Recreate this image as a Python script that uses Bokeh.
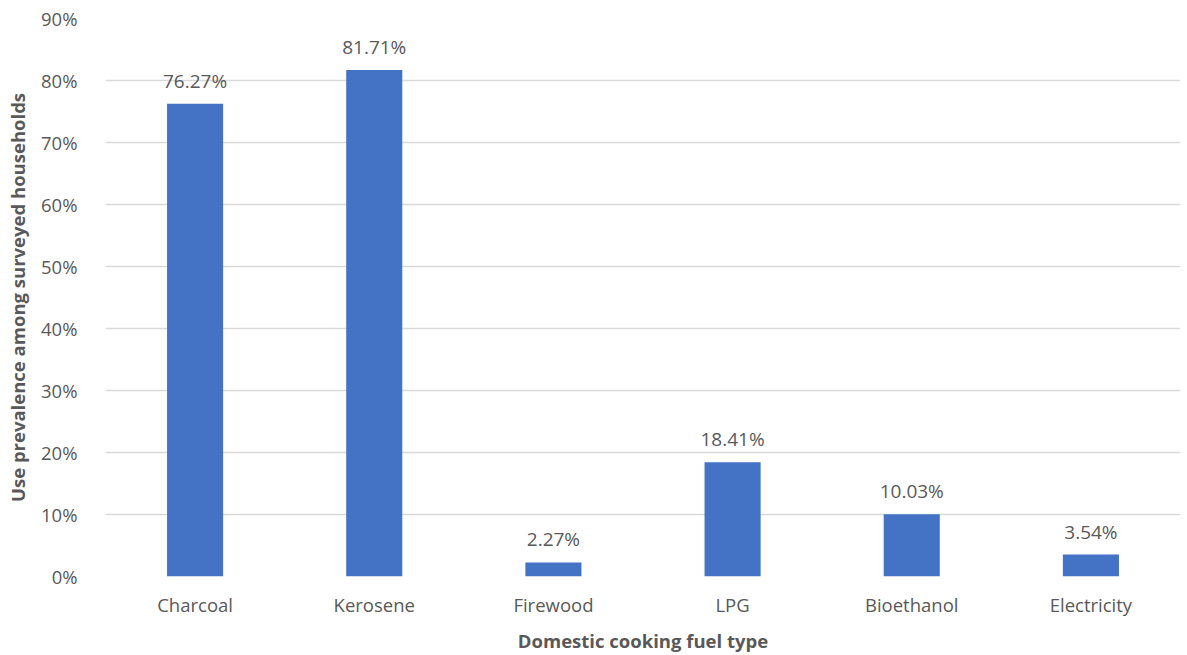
from bokeh.plotting import figure
from bokeh.models import ColumnDataSource, NumeralTickFormatter, FixedTicker, Range1d, FactorRange
from bokeh.core.properties import value
from bokeh.embed import file_html
from bokeh.resources import INLINE

categories = ["Charcoal", "Kerosene", "Firewood", "LPG", "Bioethanol", "Electricity"]
values = [0.7627, 0.8171, 0.0227, 0.1841, 0.1003, 0.0354]
labels = ["76.27%", "81.71%", "2.27%", "18.41%", "10.03%", "3.54%"]

FONT = "Open Sans"
TXT = "#595959"

src = ColumnDataSource(dict(cat=categories, val=values, lab=labels))

p = figure(x_range=FactorRange(*categories, range_padding=0), y_range=Range1d(0, 0.9),
           width=1187, height=655, output_backend="svg", toolbar_location=None,
           min_border_left=105, min_border_right=7, min_border_top=18, min_border_bottom=77)
p.outline_line_color = None
p.background_fill_color = "white"
p.border_fill_color = "white"

p.vbar(x="cat", top="val", width=0.313, source=src, fill_color="#4472C4", line_color=None)
p.text(x="cat", y="val", text="lab", source=src, text_align="center", text_baseline="bottom",
       y_offset=-10, text_font=value(FONT), text_font_size="19px", text_color=TXT)

p.yaxis.ticker = FixedTicker(ticks=[i / 10 for i in range(10)])
p.yaxis.formatter = NumeralTickFormatter(format="0%")
for ax in (p.xaxis, p.yaxis):
    ax.axis_line_color = None
    ax.major_tick_line_color = None
    ax.minor_tick_line_color = None
    ax.major_label_text_font = FONT
    ax.major_label_text_font_size = "18.5px"
    ax.major_label_text_color = TXT
    ax.axis_label_text_font = FONT
    ax.axis_label_text_font_size = "18.5px"
    ax.axis_label_text_font_style = "bold"
    ax.axis_label_text_color = TXT

p.yaxis.major_label_standoff = 22
p.xaxis.major_label_standoff = 9
p.xaxis.axis_label = "Domestic cooking fuel type"
p.yaxis.axis_label = "Use prevalence among surveyed households"
p.xaxis.axis_label_standoff = 8
p.yaxis.axis_label_standoff = 8

p.xgrid.grid_line_color = None
p.ygrid.grid_line_color = "#D9D9D9"
p.ygrid.grid_line_width = 1.5

open("out.html", "w").write(file_html(p, INLINE))
